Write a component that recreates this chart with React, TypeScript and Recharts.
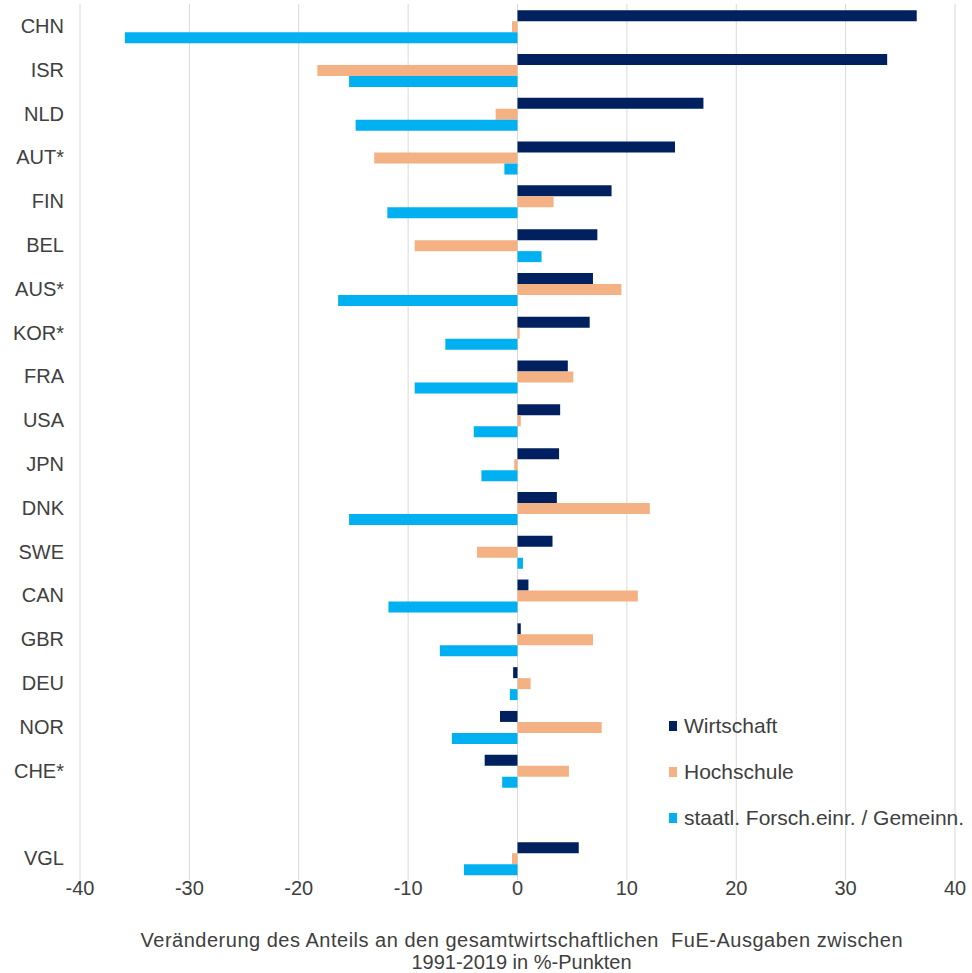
import { BarChart, Bar, XAxis, YAxis, CartesianGrid, Label } from 'recharts'

const countries = ['CHN', 'ISR', 'NLD', 'AUT*', 'FIN', 'BEL', 'AUS*', 'KOR*', 'FRA', 'USA', 'JPN', 'DNK', 'SWE', 'CAN', 'GBR', 'DEU', 'NOR', 'CHE*', '', 'VGL']
const wirtschaft = [36.5, 33.8, 17.0, 14.4, 8.6, 7.3, 6.9, 6.6, 4.6, 3.9, 3.8, 3.6, 3.2, 1.0, 0.3, -0.4, -1.6, -3.0, null, 5.6]
const hochschule = [-0.5, -18.3, -2.0, -13.1, 3.3, -9.4, 9.5, 0.2, 5.1, 0.3, -0.3, 12.1, -3.7, 11.0, 6.9, 1.2, 7.7, 4.7, null, -0.5]
const staatl = [-35.9, -15.4, -14.8, -1.2, -11.9, 2.2, -16.4, -6.6, -9.4, -4.0, -3.3, -15.4, 0.5, -11.8, -7.1, -0.7, -6.0, -1.4, null, -4.9]
const xTicks = [-40, -30, -20, -10, 0, 10, 20, 30, 40]

const series = [
  { key: 'wirtschaft', name: 'Wirtschaft', color: '#002060' },
  { key: 'hochschule', name: 'Hochschule', color: '#F4B183' },
  { key: 'staatl', name: 'staatl. Forsch.einr. / Gemeinn.', color: '#00B0F0' }
]

const data = countries.map((name, i) => ({
  name,
  wirtschaft: wirtschaft[i],
  hochschule: hochschule[i],
  staatl: staatl[i]
}))

const FONT = '"Liberation Sans", Arial, sans-serif'
const TEXT = '#404040'

// legend sits inside the plot, so it is drawn as an overlay instead of <Legend />
const LegendBox = () => (
  <div style={{ position: 'absolute', left: 669, top: 703, fontFamily: FONT, fontSize: 21, color: TEXT }}>
    {series.map((s) => (
      <div key={s.key} style={{ display: 'flex', alignItems: 'center', height: 46, whiteSpace: 'nowrap' }}>
        <span style={{ display: 'inline-block', width: 8, height: 10, background: s.color, marginRight: 7 }} />
        {s.name}
      </div>
    ))}
  </div>
)

const renderAxisTitle = ({ viewBox }: any) => {
  const cx = viewBox.x + viewBox.width / 2 + 4
  return (
    <text x={cx} y={viewBox.y} textAnchor="middle" fontFamily={FONT} fontSize={20} fill={TEXT} style={{ whiteSpace: 'pre' }}>
      <tspan x={cx} y={viewBox.y + 67} textLength={762} lengthAdjust="spacing">
        Veränderung des Anteils an den gesamtwirtschaftlichen  FuE-Ausgaben zwischen
      </tspan>
      <tspan x={cx} y={viewBox.y + 89}>1991-2019 in %-Punkten</tspan>
    </text>
  )
}

export default function App() {
  return (
    <div style={{ position: 'absolute', left: 0, top: 0, width: 972, height: 973 }}>
      <BarChart
        width={972}
        height={973}
        data={data}
        layout="vertical"
        margin={{ top: 4, right: 17, left: 0, bottom: 0 }}
        barGap={0}
        barCategoryGap="14%"
      >
        <CartesianGrid horizontal={false} stroke="#d9d9d9" />
        <XAxis
          type="number"
          domain={[-40, 40]}
          ticks={xTicks}
          height={93}
          axisLine={false}
          tickLine={false}
          tickSize={0}
          tickMargin={1}
          tick={{ fontFamily: FONT, fontSize: 20, fill: TEXT }}
        >
          <Label content={renderAxisTitle} />
        </XAxis>
        <YAxis
          type="category"
          dataKey="name"
          width={80}
          axisLine={false}
          tickLine={false}
          tickSize={0}
          tickMargin={16}
          interval={0}
          tick={{ fontFamily: FONT, fontSize: 20, fill: TEXT }}
        />
        {series.map((s) => (
          <Bar key={s.key} dataKey={s.key} name={s.name} fill={s.color} isAnimationActive={false} />
        ))}
      </BarChart>
      <LegendBox />
    </div>
  )
}
